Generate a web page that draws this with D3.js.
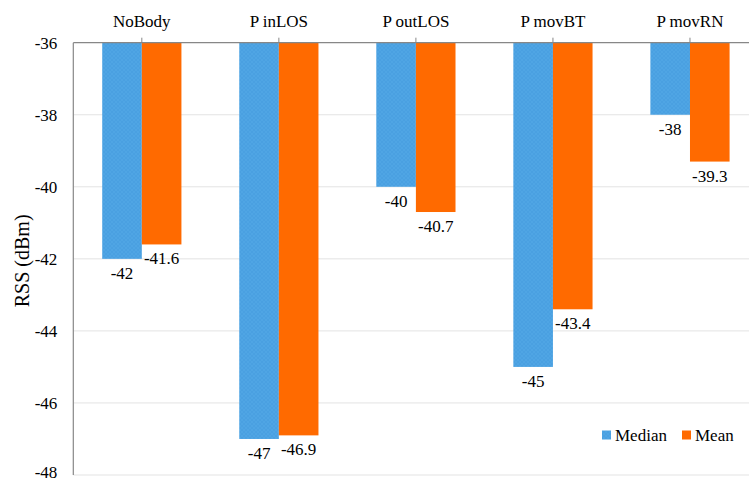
<!DOCTYPE html>
<html>
<head>
<meta charset="utf-8">
<script src="https://cdn.jsdelivr.net/npm/d3@7"></script>
<style>
  html, body { margin: 0; padding: 0; background: #fff; }
  svg { display: block; }
</style>
</head>
<body>
<svg id="chart" width="749" height="482"></svg>
<script>
const categories = ["NoBody", "P inLOS", "P outLOS", "P movBT", "P movRN"];
const seriesNames = ["Median", "Mean"];
const medianValues = [-42, -47, -40, -45, -38];
const meanValues = [-41.6, -46.9, -40.7, -43.4, -39.3];
const yTicks = [-36, -38, -40, -42, -44, -46, -48];
const colors = ["#4fa5e4", "#ff6a00"];

(function () {
const FONT = "Liberation Serif";
const svg = d3.select("#chart");
const W = 749, H = 482;
const mLeft = 73.3, mRight = 758.5, mTop = 42.7, mBottom = 475;

const defs = svg.append("defs");
const pat = defs.append("pattern").attr("id", "hatch").attr("patternUnits", "userSpaceOnUse")
  .attr("width", 4).attr("height", 4);
pat.append("rect").attr("width", 4).attr("height", 4).attr("fill", colors[0]);
pat.append("path").attr("d", "M0,4 L4,0 M0,0 L4,4").attr("stroke", "#3f96d8").attr("stroke-width", 0.6).attr("opacity", 0.6);

const x = d3.scaleBand().domain(categories).range([mLeft, mRight]).padding(0);
const y = d3.scaleLinear().domain([-36, -48]).range([mTop, mBottom]);
const barW = x.bandwidth() * 0.289;

// gridlines
svg.append("g").selectAll("line").data(yTicks.filter(d => d !== -36)).join("line")
  .attr("x1", mLeft).attr("x2", W).attr("y1", d => y(d)).attr("y2", d => y(d))
  .attr("stroke", "#e3e3e3").attr("stroke-width", 1);

// y tick labels
const yAxis = d3.axisLeft(y).tickValues(yTicks).tickFormat(d => String(d)).tickSize(0).tickPadding(16);
const yg = svg.append("g").attr("transform", `translate(${mLeft},0)`).call(yAxis);
yg.select(".domain").remove();
yg.attr("font-family", FONT).attr("font-size", 17);
yg.selectAll("text").attr("fill", "#000")
  .attr("dy", d => d === -48 ? "0.12em" : "0.32em");

// bars
const series = [medianValues, meanValues];
series.forEach((vals, si) => {
  const g = svg.append("g").attr("font-family", FONT).attr("font-size", 17);
  g.selectAll("rect").data(categories).join("rect")
    .attr("x", (c) => x(c) + x.bandwidth() / 2 + (si === 0 ? -barW : 0))
    .attr("y", y(-36))
    .attr("width", barW)
    .attr("height", (c, i) => y(vals[i]) - y(-36))
    .attr("fill", si === 0 ? "url(#hatch)" : colors[1]);
  g.selectAll("text").data(categories).join("text")
    .attr("x", (c) => x(c) + x.bandwidth() / 2 + (si === 0 ? -barW / 2 : barW / 2))
    .attr("y", (c, i) => y(vals[i]) + 20)
    .attr("text-anchor", "middle")
    .text((c, i) => String(vals[i]));
});

// axes lines
svg.append("line").attr("x1", mLeft).attr("x2", mLeft).attr("y1", mTop).attr("y2", mBottom)
  .attr("stroke", "#878787").attr("stroke-width", 1.2);
const xAxis = d3.axisTop(x).tickSize(5).tickPadding(10);
const xg = svg.append("g").attr("transform", `translate(0,${mTop})`).call(xAxis);
xg.attr("font-family", FONT).attr("font-size", 17);
xg.select(".domain").attr("stroke", "#878787").attr("stroke-width", 1.2).attr("d", `M${mLeft},0H${mRight}`);
xg.selectAll(".tick line").attr("stroke", "#878787");
xg.selectAll("text").attr("fill", "#000").attr("dy", 0).attr("y", -16);

// y axis title
svg.append("text").attr("transform", `translate(29,${(mTop + mBottom) / 2 + 2}) rotate(-90)`)
  .attr("text-anchor", "middle").attr("font-family", FONT).attr("font-size", 20).text("RSS (dBm)");

// legend
const legend = svg.append("g").attr("font-family", FONT).attr("font-size", 17);
const legendX = [602, 682];
seriesNames.forEach((n, i) => {
  legend.append("rect").attr("x", legendX[i]).attr("y", 430.5).attr("width", 9).attr("height", 9)
    .attr("fill", i === 0 ? "url(#hatch)" : colors[1]);
  legend.append("text").attr("x", legendX[i] + 13).attr("y", 441).text(n);
});
})();
</script>
</body>
</html>
